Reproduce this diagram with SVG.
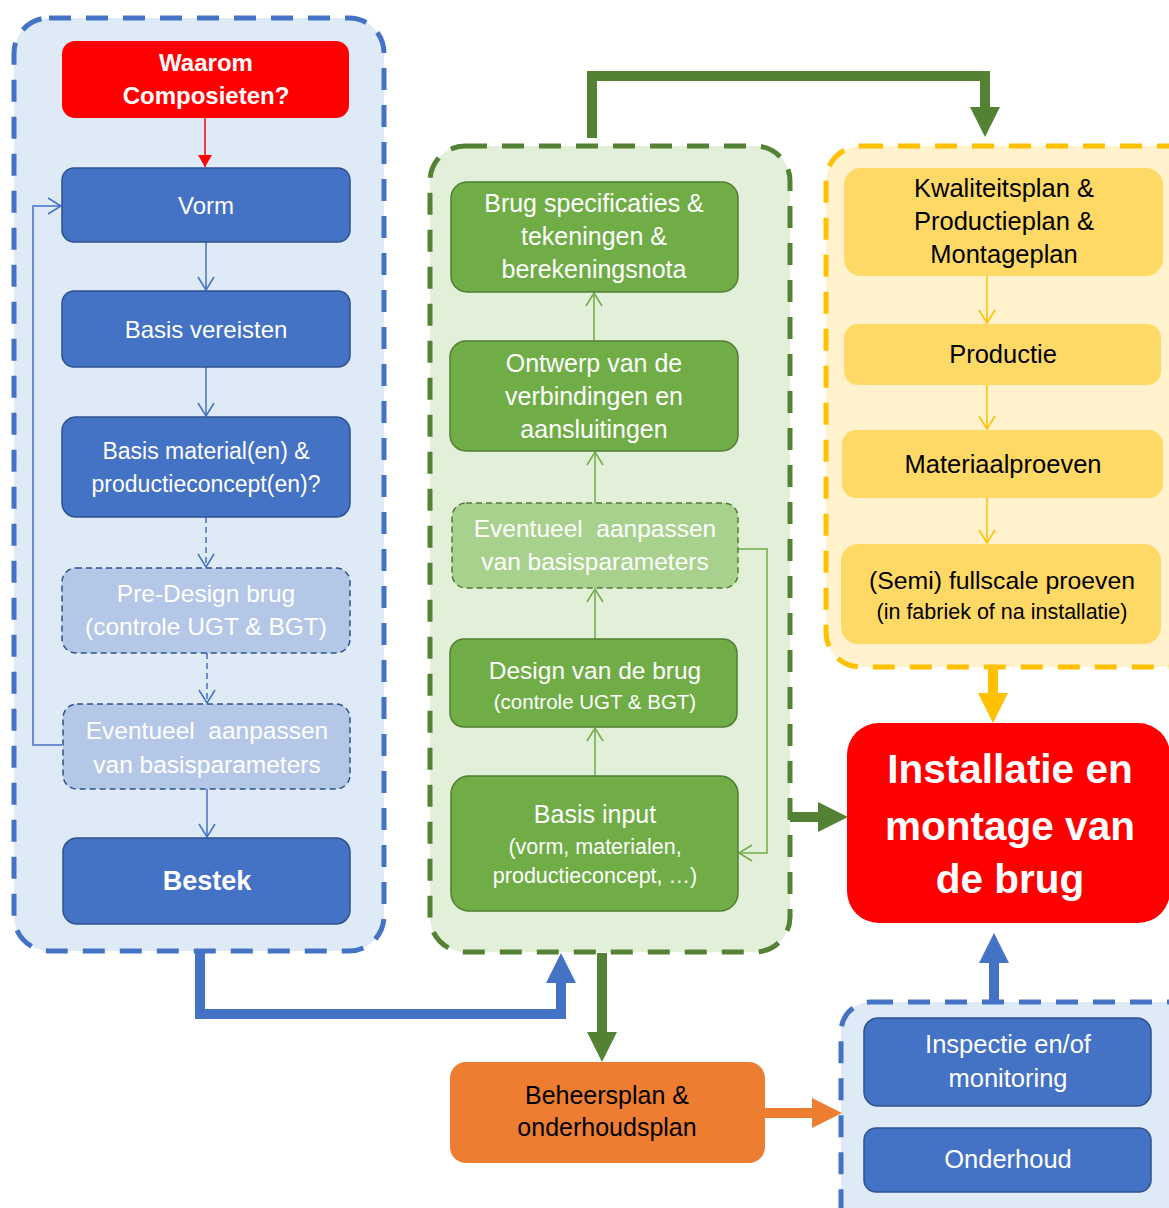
<svg xmlns="http://www.w3.org/2000/svg" width="1169" height="1208" viewBox="0 0 1169 1208">
<style>
text{font-family:"Liberation Sans",Arial,sans-serif;text-anchor:middle}
.w{fill:#FFFFFF}
.k{fill:#000000}
.b{font-weight:bold}
.cont{stroke-width:5;stroke-dasharray:22 15}
.bn{fill:#4472C4;stroke:#2F528F;stroke-width:1.5}
.bl{fill:#B4C7E7;stroke:#2F528F;stroke-width:1.5;stroke-dasharray:6 4}
.gn{fill:#70AD47;stroke:#507E32;stroke-width:1.5}
.gl{fill:#A9D18E;stroke:#507E32;stroke-width:1.5;stroke-dasharray:6 4}
.yn{fill:#FFD966}
.thin{fill:none;stroke-width:1.5}
.thick{fill:none;stroke-width:10}
</style>
<defs>
<marker id="oB" markerUnits="userSpaceOnUse" markerWidth="16" markerHeight="20" viewBox="0 0 16 20" refX="14" refY="10" orient="auto"><path d="M1,2 L14,10 L1,18" fill="none" stroke="#4472C4" stroke-width="1.5"/></marker>
<marker id="oG" markerUnits="userSpaceOnUse" markerWidth="16" markerHeight="20" viewBox="0 0 16 20" refX="14" refY="10" orient="auto"><path d="M1,2 L14,10 L1,18" fill="none" stroke="#70AD47" stroke-width="1.5"/></marker>
<marker id="oY" markerUnits="userSpaceOnUse" markerWidth="16" markerHeight="20" viewBox="0 0 16 20" refX="14" refY="10" orient="auto"><path d="M1,2 L14,10 L1,18" fill="none" stroke="#FFC000" stroke-width="1.5"/></marker>
<marker id="fR" markerUnits="userSpaceOnUse" markerWidth="12" markerHeight="14" viewBox="0 0 12 14" refX="12" refY="7" orient="auto"><path d="M0,0 L12,7 L0,14 z" fill="#FF0000"/></marker>
<marker id="tG" markerUnits="userSpaceOnUse" markerWidth="30" markerHeight="30" viewBox="0 0 30 30" refX="0" refY="15" orient="auto"><path d="M0,0 L30,15 L0,30 z" fill="#548235"/></marker>
<marker id="tB" markerUnits="userSpaceOnUse" markerWidth="30" markerHeight="30" viewBox="0 0 30 30" refX="0" refY="15" orient="auto"><path d="M0,0 L30,15 L0,30 z" fill="#4472C4"/></marker>
<marker id="tY" markerUnits="userSpaceOnUse" markerWidth="30" markerHeight="30" viewBox="0 0 30 30" refX="0" refY="15" orient="auto"><path d="M0,0 L30,15 L0,30 z" fill="#FFC000"/></marker>
<marker id="tO" markerUnits="userSpaceOnUse" markerWidth="30" markerHeight="30" viewBox="0 0 30 30" refX="0" refY="15" orient="auto"><path d="M0,0 L30,15 L0,30 z" fill="#ED7D31"/></marker>
</defs>

<g id="containers">
<rect id="cont-ontwerp" class="cont" x="14" y="18" width="370" height="933" rx="35" fill="#DEEBF7" stroke="#4472C4"/>
<rect id="cont-design" class="cont" x="430" y="146" width="360" height="806" rx="35" fill="#E2F0D9" stroke="#548235"/>
<rect id="cont-productie" class="cont" x="826" y="146" width="380" height="521" rx="35" fill="#FFF2CC" stroke="#FFC000"/>
<rect id="cont-beheer" class="cont" x="841" y="1002" width="360" height="260" rx="30" fill="#DEEBF7" stroke="#4472C4"/>
</g>

<g id="connectors">
<path class="thin" stroke="#FF0000" d="M205,118 V167" marker-end="url(#fR)"/>
<path class="thin" stroke="#4472C4" d="M206,242 V290" marker-end="url(#oB)"/>
<path class="thin" stroke="#4472C4" d="M206,367 V416" marker-end="url(#oB)"/>
<path class="thin" stroke="#4472C4" stroke-dasharray="6 4" d="M206,517 V567" marker-end="url(#oB)"/>
<path class="thin" stroke="#4472C4" stroke-dasharray="6 4" d="M207,653 V703" marker-end="url(#oB)"/>
<path class="thin" stroke="#4472C4" d="M207,789 V837" marker-end="url(#oB)"/>
<path class="thin" stroke="#4472C4" d="M62,745 H33 V206 H61" marker-end="url(#oB)"/>
<path class="thin" stroke="#70AD47" d="M595,776 V728" marker-end="url(#oG)"/>
<path class="thin" stroke="#70AD47" d="M595,639 V589" marker-end="url(#oG)"/>
<path class="thin" stroke="#70AD47" d="M595,503 V452" marker-end="url(#oG)"/>
<path class="thin" stroke="#70AD47" d="M594,341 V293" marker-end="url(#oG)"/>
<path class="thin" stroke="#70AD47" d="M738,549 H767 V853 H739" marker-end="url(#oG)"/>
<path class="thin" stroke="#FFC000" d="M987,276 V323" marker-end="url(#oY)"/>
<path class="thin" stroke="#FFC000" d="M987,385 V429" marker-end="url(#oY)"/>
<path class="thin" stroke="#FFC000" d="M987,498 V543" marker-end="url(#oY)"/>
<path class="thick" stroke="#548235" stroke-width="9" d="M592,138 V76 H985 V107" marker-end="url(#tG)"/>
<path class="thick" stroke="#548235" d="M790,817 H818" marker-end="url(#tG)"/>
<path class="thick" stroke="#FFC000" d="M993,667 V693" marker-end="url(#tY)"/>
<path class="thick" stroke="#4472C4" stroke-width="9" d="M200,951 V1014 H561 V983" marker-end="url(#tB)"/>
<path class="thick" stroke="#548235" d="M602,953 V1032" marker-end="url(#tG)"/>
<path class="thick" stroke="#ED7D31" d="M765,1113 H812" marker-end="url(#tO)"/>
<path class="thick" stroke="#4472C4" d="M994,1002 V963" marker-end="url(#tB)"/>
</g>

<g id="n-waarom">
<rect x="62" y="41" width="287" height="77" rx="13" fill="#FF0000"/>
<text class="w b" x="206" y="71" font-size="24">Waarom</text>
<text class="w b" x="206" y="104" font-size="24">Composieten?</text>
</g>
<g id="n-vorm">
<rect class="bn" x="62" y="168" width="288" height="74" rx="12"/>
<text class="w" x="206" y="214" font-size="24">Vorm</text>
</g>
<g id="n-basisvereisten">
<rect class="bn" x="62" y="291" width="288" height="76" rx="12"/>
<text class="w" x="206" y="338" font-size="24">Basis vereisten</text>
</g>
<g id="n-basismaterial">
<rect class="bn" x="62" y="417" width="288" height="100" rx="14"/>
<text class="w" x="206" y="459" font-size="23">Basis material(en) &amp;</text>
<text class="w" x="206" y="492" font-size="23">productieconcept(en)?</text>
</g>
<g id="n-predesign">
<rect class="bl" x="62" y="568" width="288" height="85" rx="14"/>
<text class="w" x="206" y="602" font-size="24.5">Pre-Design brug</text>
<text class="w" x="206" y="635" font-size="24.5">(controle UGT &amp; BGT)</text>
</g>
<g id="n-eventueel1">
<rect class="bl" x="63" y="704" width="287" height="85" rx="14"/>
<text class="w" x="207" y="739" font-size="24.5" xml:space="preserve">Eventueel  aanpassen</text>
<text class="w" x="207" y="773" font-size="24.5">van basisparameters</text>
</g>
<g id="n-bestek">
<rect class="bn" x="63" y="838" width="287" height="86" rx="14"/>
<text class="w b" x="207" y="890" font-size="27">Bestek</text>
</g>

<g id="n-brugspec">
<rect class="gn" x="451" y="182" width="287" height="110" rx="16"/>
<text class="w" x="594" y="212" font-size="25">Brug specificaties &amp;</text>
<text class="w" x="594" y="245" font-size="25">tekeningen &amp;</text>
<text class="w" x="594" y="278" font-size="25">berekeningsnota</text>
</g>
<g id="n-ontwerp">
<rect class="gn" x="450" y="341" width="288" height="110" rx="16"/>
<text class="w" x="594" y="372" font-size="25">Ontwerp van de</text>
<text class="w" x="594" y="405" font-size="25">verbindingen en</text>
<text class="w" x="594" y="438" font-size="25">aansluitingen</text>
</g>
<g id="n-eventueel2">
<rect class="gl" x="452" y="503" width="286" height="85" rx="14"/>
<text class="w" x="595" y="537" font-size="24.5" xml:space="preserve">Eventueel  aanpassen</text>
<text class="w" x="595" y="570" font-size="24.5">van basisparameters</text>
</g>
<g id="n-design">
<rect class="gn" x="450" y="639" width="287" height="88" rx="14"/>
<text class="w" x="595" y="679" font-size="24.5">Design van de brug</text>
<text class="w" x="595" y="709" font-size="20.5">(controle UGT &amp; BGT)</text>
</g>
<g id="n-basisinput">
<rect class="gn" x="451" y="776" width="287" height="135" rx="18"/>
<text class="w" x="595" y="823" font-size="25">Basis input</text>
<text class="w" x="595" y="854" font-size="21.5">(vorm, materialen,</text>
<text class="w" x="595" y="883" font-size="21.5">productieconcept, …)</text>
</g>

<g id="n-kwaliteit">
<rect class="yn" x="844" y="168" width="319" height="108" rx="17"/>
<text class="k" x="1004" y="197" font-size="25.5">Kwaliteitsplan &amp;</text>
<text class="k" x="1004" y="230" font-size="25.5">Productieplan &amp;</text>
<text class="k" x="1004" y="263" font-size="25.5">Montageplan</text>
</g>
<g id="n-productie">
<rect class="yn" x="844" y="324" width="317" height="61" rx="14"/>
<text class="k" x="1003" y="363" font-size="25.5">Productie</text>
</g>
<g id="n-materiaal">
<rect class="yn" x="842" y="430" width="321" height="68" rx="14"/>
<text class="k" x="1003" y="473" font-size="25.5">Materiaalproeven</text>
</g>
<g id="n-fullscale">
<rect class="yn" x="841" y="544" width="320" height="100" rx="17"/>
<text class="k" x="1002" y="589" font-size="24.8">(Semi) fullscale proeven</text>
<text class="k" x="1002" y="619" font-size="21.5">(in fabriek of na installatie)</text>
</g>

<g id="n-installatie">
<rect x="847" y="723" width="323" height="200" rx="32" fill="#FF0000"/>
<text class="w b" x="1010" y="783" font-size="40.5">Installatie en</text>
<text class="w b" x="1010" y="840" font-size="40.5">montage van</text>
<text class="w b" x="1010" y="893" font-size="40.5">de brug</text>
</g>

<g id="n-beheersplan">
<rect x="450" y="1062" width="315" height="101" rx="16" fill="#ED7D31"/>
<text class="k" x="607" y="1104" font-size="25">Beheersplan &amp;</text>
<text class="k" x="607" y="1136" font-size="25">onderhoudsplan</text>
</g>
<g id="n-inspectie">
<rect class="bn" x="864" y="1018" width="287" height="88" rx="14"/>
<text class="w" x="1008" y="1053" font-size="25.5">Inspectie en/of</text>
<text class="w" x="1008" y="1087" font-size="25.5">monitoring</text>
</g>
<g id="n-onderhoud">
<rect class="bn" x="864" y="1128" width="287" height="64" rx="12"/>
<text class="w" x="1008" y="1168" font-size="25.5">Onderhoud</text>
</g>
</svg>
